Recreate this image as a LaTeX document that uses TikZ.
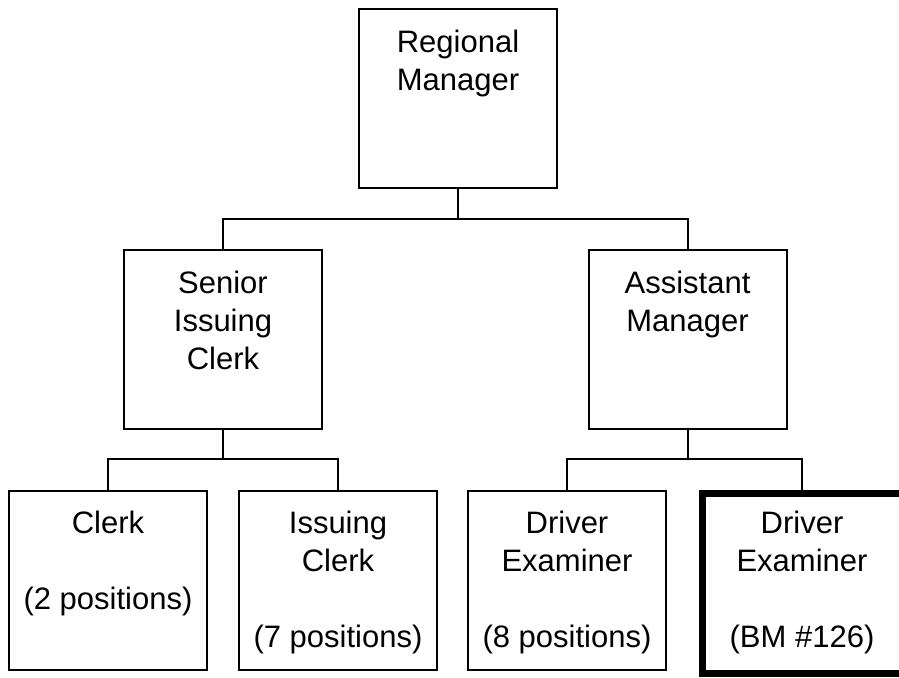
\documentclass[tikz,border=0pt]{standalone}
\usepackage{fontspec}
\setmainfont{Liberation Sans}
\begin{document}
\begin{tikzpicture}[x=1pt,y=-1pt,
  box/.style={draw=black, line width=2pt, rectangle, inner sep=0pt, outer sep=0pt, minimum width=198pt, minimum height=179pt},
  thickbox/.style={draw=black, line width=7pt, rectangle, inner sep=0pt, outer sep=0pt, minimum width=204pt, minimum height=180.5pt},
  lbl/.style={anchor=north, align=center, inner sep=0pt, font=\fontsize{31}{38}\selectfont},
  conn/.style={draw=black, line width=2pt}]
\useasboundingbox (0,0) rectangle (899,677);
\fill[white] (0,0) rectangle (899,677);
\clip (0,0) rectangle (899,677);
% boxes
\node[box] (rm) at (458,98.5) {};
\node[box] (sic) at (223,339.5) {};
\node[box] (am) at (687.5,339.5) {};
\node[box] (cl) at (108,580.5) {};
\node[box] (ic) at (338,580.5) {};
\node[box] (de) at (567,580.5) {};
\node[thickbox] (bm) at (804.5,583.25) {};
% labels
\node[lbl] (rmt) at ([yshift=-16.4pt]rm.north) {\strut Regional\\\strut Manager};
\node[lbl] (sict) at ([yshift=-16.4pt]sic.north) {\strut Senior\\\strut Issuing\\\strut Clerk};
\node[lbl] (amt) at ([yshift=-16.4pt]am.north) {\strut Assistant\\\strut Manager};
\node[lbl] (clt) at ([yshift=-15.4pt]cl.north) {\strut Clerk\\\strut\\\strut (2 positions)};
\node[lbl] (ict) at ([yshift=-15.4pt]ic.north) {\strut Issuing\\\strut Clerk\\\strut\\\strut (7 positions)};
\node[lbl] (det) at ([yshift=-15.4pt]de.north) {\strut Driver\\\strut Examiner\\\strut\\\strut (8 positions)};
\node[lbl] (bmt) at ([xshift=-2.5pt,yshift=-13.4pt]bm.north) {\strut Driver\\\strut Examiner\\\strut\\\strut (BM \#126)};
% connectors
\coordinate (bus1) at (458,219);
\coordinate (bus2) at (223,459);
\coordinate (bus3) at (687.5,459);
\coordinate (bmtop) at ([xshift=-2.5pt]bm.north);
\draw[conn] (rm.south) -- (bus1);
\draw[conn] (sic.north) |- (bus1) -| (am.north);
\draw[conn] (sic.south) -- (bus2);
\draw[conn] (cl.north) |- (bus2) -| (ic.north);
\draw[conn] (am.south) -- (bus3);
\draw[conn] (de.north) |- (bus3) -| (bmtop);
\end{tikzpicture}
\end{document}
